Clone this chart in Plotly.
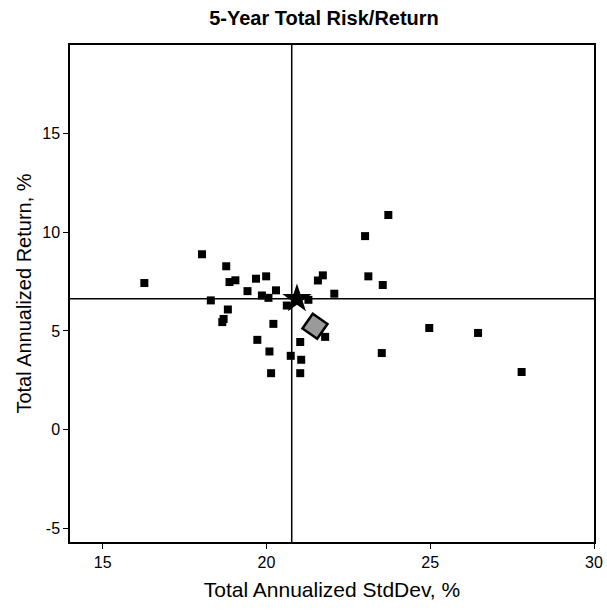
import plotly.graph_objects as go

# Fund points (Total Annualized StdDev %, Total Annualized Return %)
std_dev = [16.27, 18.03, 18.77, 18.87, 19.05, 19.68, 19.42, 18.30, 18.82, 18.69,
           18.65, 19.99, 19.86, 20.06, 20.29, 20.62, 21.28, 21.57, 21.72, 22.07,
           23.11, 23.55, 23.01, 23.72, 20.21, 21.79, 21.03, 19.72, 20.09, 20.74,
           21.06, 20.14, 21.03, 24.97, 26.46, 23.52, 27.79]
ret = [7.43, 8.89, 8.28, 7.48, 7.57, 7.65, 7.02, 6.55, 6.09, 5.61,
       5.45, 7.77, 6.80, 6.68, 7.06, 6.29, 6.58, 7.56, 7.82, 6.89,
       7.77, 7.33, 9.81, 10.88, 5.36, 4.70, 4.44, 4.55, 3.96, 3.74,
       3.54, 2.86, 2.86, 5.15, 4.90, 3.88, 2.92]

benchmark_x = [20.93]
benchmark_y = [6.63]
fund_x = [21.48]
fund_y = [5.24]

ref_x = 20.77
ref_y = 6.63

x_range = [14.0, 30.0]
y_range = [-5.7, 19.5]
x_ticks = [15, 20, 25, 30]
x_labels = ["15", "20", "25", "30"]
y_ticks = [-5, 0, 5, 10, 15]
y_labels = ["-5", "0", "5", "10", "15"]

font_narrow = "Liberation Sans Narrow, Arial Narrow, Liberation Sans, Arial, sans-serif"
font_reg = "Liberation Sans, Arial, sans-serif"

fig = go.Figure()

fig.add_trace(go.Scatter(
    x=std_dev, y=ret, mode="markers",
    marker=dict(symbol="square", size=8, color="black"),
    showlegend=False, hoverinfo="x+y"))

fig.add_trace(go.Scatter(
    x=fund_x, y=fund_y, mode="markers",
    marker=dict(symbol="square", angle=35, size=18, color="#9a9a9a",
                line=dict(color="black", width=2.5)),
    showlegend=False))

fig.add_trace(go.Scatter(
    x=benchmark_x, y=benchmark_y, mode="markers",
    marker=dict(symbol="star", size=22, color="black"),
    showlegend=False))

fig.add_shape(type="line", xref="x", yref="paper", x0=ref_x, x1=ref_x, y0=0, y1=1,
              line=dict(color="black", width=1.5), layer="below")
fig.add_shape(type="line", xref="paper", yref="y", x0=0, x1=1, y0=ref_y, y1=ref_y,
              line=dict(color="black", width=1.5), layer="below")

fig.update_layout(
    width=607, height=613,
    margin=dict(l=70, r=13, t=45, b=71, autoexpand=False),
    plot_bgcolor="white", paper_bgcolor="white",
    title=dict(text="<b>5-Year Total Risk/Return</b>", x=324 / 607, xanchor="center",
               xref="container", yref="container", y=1 - 18 / 613, yanchor="middle",
               font=dict(family=font_reg, size=20, color="black")),
    font=dict(family=font_reg, color="black"),
)

fig.update_xaxes(
    range=x_range, tickvals=x_ticks, ticktext=x_labels, ticks="outside", ticklen=5,
    tickcolor="black", automargin=False,
    showline=True, linecolor="black", linewidth=1.5, mirror=True,
    showgrid=False, zeroline=False,
    tickfont=dict(size=16, family=font_narrow),
    title=dict(text="Total Annualized StdDev, %", font=dict(size=21, family=font_narrow),
               standoff=12))

fig.update_yaxes(
    range=y_range, tickvals=y_ticks, ticktext=y_labels, ticks="outside", ticklen=5,
    tickcolor="black", automargin=False,
    showline=True, linecolor="black", linewidth=1.5, mirror=True,
    showgrid=False, zeroline=False,
    tickfont=dict(size=16, family=font_narrow),
    title=dict(text="Total Annualized Return, %", font=dict(size=20, family=font_reg),
               standoff=5))

fig.write_html("out.html", config={"displayModeBar": False},
               post_script="document.body.style.margin='0';")
